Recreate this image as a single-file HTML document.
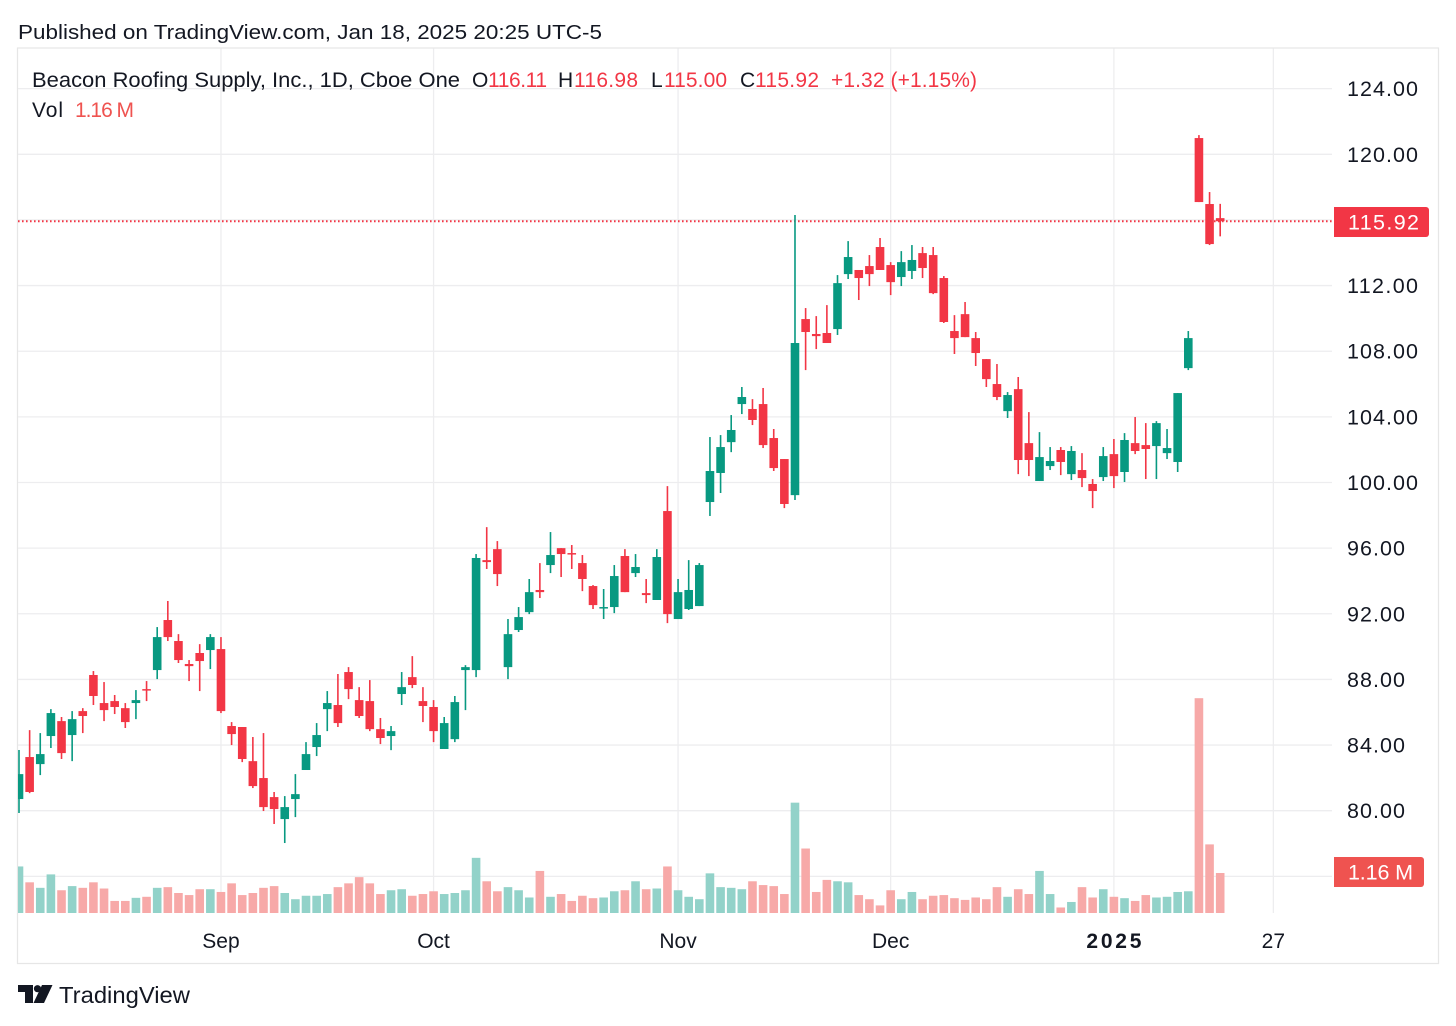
<!DOCTYPE html>
<html lang="en">
<head>
<meta charset="utf-8">
<title>Beacon Roofing Supply chart</title>
<style>
html,body{margin:0;padding:0;background:#fff;width:1456px;height:1026px;overflow:hidden}
svg{display:block}
text{font-family:"Liberation Sans",sans-serif;fill:#131722}
</style>
</head>
<body>
<svg id="chart" xmlns="http://www.w3.org/2000/svg" width="1456" height="1026" viewBox="0 0 1456 1026">
  <defs><clipPath id="pane-clip"><rect x="18" y="49" width="1315" height="864"/></clipPath></defs>
  <rect x="0" y="0" width="1456" height="1026" fill="#ffffff"/>
  <text x="18" y="39" font-size="20.5" textLength="584" lengthAdjust="spacingAndGlyphs">Published on TradingView.com, Jan 18, 2025 20:25 UTC-5</text>
  <rect x="17.5" y="48" width="1421" height="915.5" fill="none" stroke="#e6e6e6" stroke-width="1.2"/>
  <g id="grid"></g>
  <g id="volumes" clip-path="url(#pane-clip)"></g>
  <line id="price-line" x1="18" x2="1333" stroke="#f23645" stroke-width="2" stroke-dasharray="1.6 2.4"/>
  <g id="candles" clip-path="url(#pane-clip)"></g>
  <g id="price-axis"></g>
  <g id="time-axis"></g>

  <g font-size="21">
    <text x="32" y="87" textLength="428" lengthAdjust="spacingAndGlyphs">Beacon Roofing Supply, Inc., 1D, Cboe One</text>
    <text x="472" y="87">O</text>
    <text x="488" y="87" style="fill:#f23645" textLength="59">116.11</text>
    <text x="558" y="87">H</text>
    <text x="574" y="87" style="fill:#f23645" textLength="64">116.98</text>
    <text x="651" y="87">L</text>
    <text x="664" y="87" style="fill:#f23645" textLength="63">115.00</text>
    <text x="740" y="87">C</text>
    <text x="755" y="87" style="fill:#f23645" textLength="64">115.92</text>
    <text x="831" y="87" style="fill:#f23645" textLength="146">+1.32 (+1.15%)</text>
    <text x="32" y="117" textLength="31">Vol</text>
    <text x="75" y="117" style="fill:#ef5350" textLength="59">1.16 M</text>
  </g>

  <g>
    <path d="M1334 207H1426a3 3 0 0 1 3 3V234a3 3 0 0 1 -3 3H1334Z" fill="#f23645"/>
    <text x="1348" y="229.5" font-size="21.5" style="fill:#ffffff" textLength="71">115.92</text>
  </g>
  <g>
    <path d="M1334 857H1421a3 3 0 0 1 3 3V884a3 3 0 0 1 -3 3H1334Z" fill="#ef5350"/>
    <text x="1348" y="879.5" font-size="21.5" style="fill:#ffffff" textLength="65">1.16 M</text>
  </g>

  <g>
    <path d="M18 985H33V1003H25V992H18Z" fill="#131722"/>
    <circle cx="37.5" cy="988.7" r="3.6" fill="#131722"/>
    <path d="M42 985H52.5L44 1003H33.5Z" fill="#131722"/>
    <text x="59" y="1003" font-size="23" textLength="131" lengthAdjust="spacingAndGlyphs">TradingView</text>
  </g>
</svg>

<script>
// Daily OHLC and volume (millions).
const opens = [80.71,83.27,82.84,84.55,85.46,84.61,86.07,88.27,86.56,86.68,86.25,86.56,87.41,88.57,91.62,90.34,88.94,89.61,89.79,89.85,
85.16,85.10,83.02,81.99,80.83,79.49,80.71,82.48,83.88,86.19,86.44,88.45,86.74,86.68,84.97,84.55,87.11,88.14,86.68,86.32,
83.76,84.36,88.57,88.57,95.27,95.94,88.75,91.01,92.10,93.45,94.97,96.00,95.70,95.09,93.69,92.35,92.41,95.52,94.48,93.26,
92.84,98.26,91.68,92.29,92.47,98.81,100.58,102.46,104.78,104.48,104.78,102.71,101.43,99.23,109.96,109.05,109.11,109.35,112.70,112.95,
113.19,114.35,113.25,112.52,112.89,113.98,113.86,112.46,109.23,110.26,108.80,107.52,106.00,104.35,105.69,102.40,100.09,101.00,101.98,100.51,
100.76,99.91,100.33,101.73,100.64,102.40,102.28,102.22,101.79,101.25,106.97,120.99,116.97,116.11];
const highs = [83.70,84.91,84.73,86.19,85.71,86.07,86.25,88.51,87.84,87.05,86.56,87.35,87.90,91.19,92.78,90.76,89.18,90.15,90.76,90.58,
85.40,85.10,84.49,84.73,81.14,80.89,82.23,84.18,85.34,87.29,88.33,88.75,87.53,87.96,85.65,85.16,88.45,89.42,87.53,86.74,
85.71,86.99,88.87,95.64,97.28,96.43,91.68,92.41,94.12,95.09,96.98,96.00,96.19,95.58,93.75,93.51,94.97,95.94,95.64,94.12,
95.94,99.78,94.12,95.27,95.09,102.77,102.89,104.11,105.82,105.08,105.76,103.26,101.43,116.30,110.63,110.14,110.81,112.64,114.71,112.95,
113.86,114.90,113.43,114.10,114.47,114.35,114.35,112.58,110.20,111.00,109.17,107.52,107.22,105.51,106.43,104.29,103.07,102.16,102.16,102.22,
101.79,100.21,102.16,102.65,103.01,103.99,103.62,103.74,103.26,105.45,109.23,121.17,117.70,116.98];
const lows = [79.86,81.07,82.17,83.82,83.15,83.02,84.73,86.44,85.46,85.89,85.04,85.58,86.68,88.02,90.34,89.00,87.90,87.29,88.63,85.95,
84.00,82.96,81.38,79.98,79.19,78.03,79.61,82.48,83.33,84.85,85.10,86.80,85.65,84.85,84.06,83.69,86.44,87.47,85.40,84.18,
83.76,84.18,86.13,88.14,94.73,93.69,88.02,90.89,91.98,92.96,94.48,94.24,94.73,93.38,92.29,91.68,92.04,93.32,94.24,92.65,
92.84,91.43,91.68,92.23,92.47,97.96,99.36,101.85,104.17,103.50,102.10,100.70,98.44,98.93,106.85,108.13,108.50,108.99,112.40,111.12,
111.97,112.95,111.42,111.97,112.40,112.46,111.48,109.72,107.83,108.86,107.10,105.82,105.02,103.93,100.51,100.39,100.09,100.76,100.45,100.15,
99.72,98.44,100.09,99.66,100.03,101.73,100.21,100.21,101.43,100.64,106.85,117.09,114.47,115.00];
const closes = [82.23,81.14,83.45,85.95,83.51,85.58,85.77,86.99,86.13,86.32,85.40,86.74,87.35,90.58,90.58,89.18,88.81,89.12,90.58,86.07,
84.67,83.15,81.50,80.22,80.10,80.22,81.01,83.45,84.61,86.56,85.34,87.41,85.77,84.97,84.43,84.85,87.53,87.66,86.38,84.85,
85.34,86.62,88.75,95.40,95.15,94.42,90.76,91.80,93.32,93.32,95.58,95.64,95.64,94.12,92.53,92.41,94.30,93.32,94.85,93.14,
95.46,91.98,93.32,93.45,94.97,100.70,102.16,103.20,105.21,103.81,102.28,100.88,98.69,108.50,109.17,108.92,108.50,112.15,113.74,112.46,
112.70,112.95,112.21,113.43,113.56,113.07,111.54,109.78,108.80,108.86,107.89,106.30,105.21,105.33,101.37,101.37,101.55,101.31,101.25,101.92,
100.27,99.48,101.61,100.39,102.59,101.92,102.04,103.62,102.10,105.45,108.80,117.09,114.53,115.92];
const volumes = [1.35,0.89,0.73,1.12,0.66,0.78,0.73,0.89,0.71,0.35,0.35,0.44,0.47,0.73,0.75,0.58,0.52,0.69,0.69,0.61,
0.86,0.52,0.58,0.73,0.78,0.58,0.40,0.50,0.50,0.55,0.75,0.86,1.04,0.86,0.55,0.66,0.69,0.50,0.55,0.63,
0.55,0.58,0.66,1.60,0.92,0.63,0.75,0.66,0.45,1.22,0.47,0.55,0.35,0.50,0.43,0.45,0.63,0.66,0.92,0.69,
0.71,1.35,0.66,0.47,0.40,1.15,0.75,0.73,0.69,0.92,0.81,0.78,0.55,3.20,1.87,0.61,0.96,0.92,0.89,0.52,
0.40,0.22,0.66,0.40,0.61,0.40,0.50,0.52,0.43,0.38,0.45,0.40,0.75,0.47,0.69,0.55,1.22,0.55,0.16,0.32,
0.75,0.45,0.69,0.47,0.43,0.35,0.52,0.45,0.47,0.61,0.63,6.23,1.99,1.16];
const priceTicks = ["124.00","120.00","116.00","112.00","108.00","104.00","100.00","96.00","92.00","88.00","84.00","80.00"];
const gridPrices = [124,120,116,112,108,104,100,96,92,88,84,80,76];
const timeLabels = ["Sep","Oct","Nov","Dec","2025","27"];
const timeBars = [19,39,62,82,103,118];
const lastPrice = 115.92;

const NS = "http://www.w3.org/2000/svg";
const upColor = "#089981", downColor = "#f23645";
const upVol = "#92d2c9", downVol = "#f7a9a8";
const xAxis = i => 19 + 10.63 * i;
const yAxis = p => 810.7 - (p - 80) * 16.41;
const volY = v => 913 - v * 34.48;

function mk(tag, attrs, parent) {
  const el = document.createElementNS(NS, tag);
  for (const k in attrs) el.setAttribute(k, attrs[k]);
  parent.appendChild(el);
  return el;
}

const gridG = document.getElementById("grid");
gridPrices.forEach(p => {
  const l = mk("line", {x1: 18, x2: 1332, y1: yAxis(p), y2: yAxis(p), stroke: "#ededef", "stroke-width": 1.3}, gridG);
  
  
});
timeBars.forEach(b => {
  const l = mk("line", {x1: xAxis(b), x2: xAxis(b), y1: 48.5, y2: 913, stroke: "#ededef", "stroke-width": 1.3}, gridG);
  
  
});

const priceAxisG = document.getElementById("price-axis");
priceTicks.forEach(t => {
  if (Number(t) === 116) return;
  const w = t.length === 6 ? 71 : 58;
  const el = mk("text", {x: 1347, y: yAxis(Number(t)) + 7.5, "font-size": 21.5, textLength: w}, priceAxisG);
  
  
  el.textContent = t;
});

const timeAxisG = document.getElementById("time-axis");
timeLabels.forEach((t, i) => {
  const el = mk("text", {x: xAxis(timeBars[i]), y: 948, "font-size": 21, "text-anchor": "middle"}, timeAxisG);
  
  
  if (t === "2025") { el.setAttribute("font-weight", "bold"); el.setAttribute("textLength", "55"); }
  el.textContent = t;
});

const volG = document.getElementById("volumes");
volumes.forEach((v, i) => {
  const up = closes[i] >= opens[i];
  const r = mk("rect", {x: xAxis(i) - 4.3, y: volY(v), width: 8.6, height: 913 - volY(v), fill: up ? upVol : downVol}, volG);
  
  
});

const pl = document.getElementById("price-line");
pl.setAttribute("y1", yAxis(lastPrice));
pl.setAttribute("y2", yAxis(lastPrice));

const candleG = document.getElementById("candles");
opens.forEach((o, i) => {
  const c = closes[i], up = c >= o, col = up ? upColor : downColor;
  const x = xAxis(i);
  const g = mk("g", {}, candleG);
  
  
  const w = mk("line", {x1: x, x2: x, y1: yAxis(highs[i]), y2: yAxis(lows[i]), stroke: col, "stroke-width": 1.6}, g);
  
  
  const top = yAxis(Math.max(o, c)), bot = yAxis(Math.min(o, c));
  const b = mk("rect", {x: x - 4.3, y: top, width: 8.6, height: Math.max(bot - top, 1.5), fill: col}, g);
  
  
});
</script>
</body>
</html>
